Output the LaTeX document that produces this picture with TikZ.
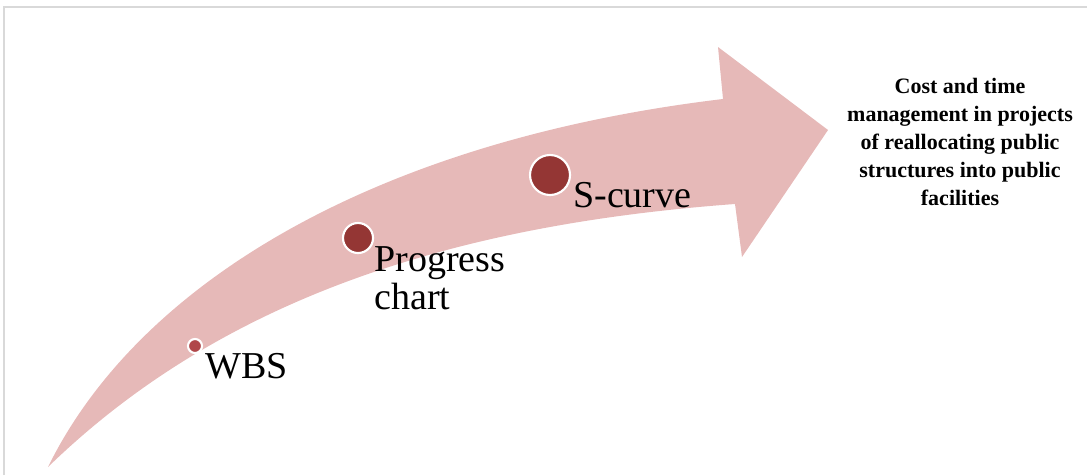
\documentclass[tikz,border=0pt]{standalone}
\usepackage{fontspec}
\setmainfont{Liberation Serif}
\usepackage{xcolor}
\usetikzlibrary{positioning}

\definecolor{bandpink}{HTML}{E6B9B8}
\definecolor{dotred}{HTML}{943634}
\definecolor{dotlight}{HTML}{B0474A}
\definecolor{framegray}{HTML}{D9D9D9}

\begin{document}
\begin{tikzpicture}[x=0.75pt,y=-0.75pt,
		milestone/.style={circle,fill=dotred,draw=white,line width=1.6pt,inner sep=0pt},
		steplabel/.style={font=\fontsize{28.5}{28.5}\selectfont,inner sep=0pt,align=left}]
	\useasboundingbox (0,0) rectangle (1087,475);
	\draw[framegray,line width=1.5pt] (3.5,475) -- (3.5,7) -- (1087,7);
	
	% curved band with its head
	\fill[bandpink] (48,467) .. controls (140,280) and (380,140) .. (723,99)
		-- (718,47) -- (828,130) -- (742,257) -- (735,204)
		.. controls (450,225) and (220,300) .. cycle;
	
	\node[milestone,fill=dotlight,minimum size=10.5pt] (wbsdot) at (195,346) {};
	\node[milestone,minimum size=22.5pt] (progdot) at (358,238) {};
	\node[milestone,minimum size=30pt] (scurvedot) at (550,175) {};
	
	\node[steplabel,anchor=base west] (wbslabel) at (205,378) {WBS};
	\node[steplabel,anchor=north west] (proglabel) at (374,246) {Progress\\chart};
	\node[steplabel,anchor=base west] (scurvelabel) at (573,207) {S-curve};
	
	\node[font=\bfseries\fontsize{16.5}{21}\selectfont,align=center,inner sep=0pt,anchor=north] (goal) at (960,78)
		{Cost and time\\management in projects\\of reallocating public\\structures into public\\facilities};
\end{tikzpicture}
\end{document}
